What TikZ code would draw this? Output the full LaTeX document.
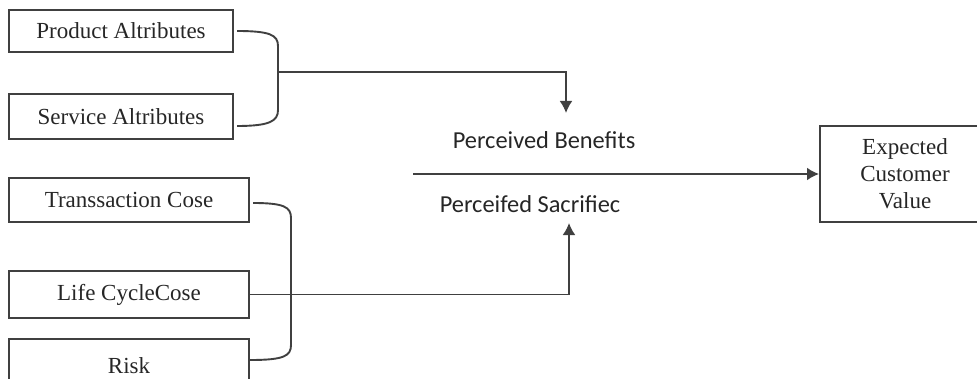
\documentclass[tikz,border=0pt]{standalone}
\usepackage{fontspec}
\setmainfont{Liberation Serif}
\newfontfamily\calib{Carlito}
\usetikzlibrary{arrows.meta}

\begin{document}
\begin{tikzpicture}[x=0.5pt,y=-0.5pt]
\useasboundingbox (0,0) rectangle (977,379);
\clip (0,0) rectangle (977,379);
\tikzstyle{box} = [draw=black!75, line width=1pt, inner sep=0pt, text=black!85, font=\fontsize{11.5}{13.5}\selectfont];
\tikzstyle{lbl} = [inner sep=0pt, text=black!85, font=\calib\fontsize{12.2}{14}\selectfont];
\tikzstyle{con} = [draw=black!75, line width=0.95pt];
\tikzstyle{arr} = [con, -{Latex[length=6pt,width=6.5pt]}];
\node[box, minimum width=112pt, minimum height=21pt] (pa) at (121,31) {Product Altributes};
\node[box, minimum width=112pt, minimum height=22.5pt] (sa) at (121,116.5) {Service Altributes};
\node[box, minimum width=120pt, minimum height=22pt] (tc) at (129,200) {Transsaction Cose};
\node[box, minimum width=120pt, minimum height=23.5pt] (lc) at (129,294.5) {Life CycleCose};
\node[box, minimum width=120pt, minimum height=27pt] (rk) at (129,366) {Risk};
\node[box, minimum width=85pt, minimum height=48pt, align=center] (ecv) at (905,174) {Expected\\Customer\\Value};
\node[lbl] (pb) at (544,140) {Perceived Benefits};
\node[lbl] (ps) at (530,204) {Perceifed Sacrifiec};
\coordinate (b1) at (278,72);
\coordinate (pbin) at (566,113);
\coordinate (psin) at (569,223);
\coordinate (split) at (413,174);
% brackets
\draw[con] ([xshift=1.5pt]pa.east) .. controls (270,31) and (278,35) .. (278,46) -- (278,110) .. controls (278,121) and (270,126) .. ([xshift=1.5pt,yshift=-4.75pt]sa.east);
\draw[con] ([xshift=1.5pt,yshift=-1.5pt]tc.east) .. controls (284,203) and (291,207) .. (291,218) -- (291,345) .. controls (291,356) and (284,360) .. ([yshift=3pt]rk.east);
\draw[arr] (b1) -| (pbin);
\draw[arr] (lc.east) -| (psin);
\draw[arr] (split) -- (ecv.west);
\end{tikzpicture}
\end{document}
